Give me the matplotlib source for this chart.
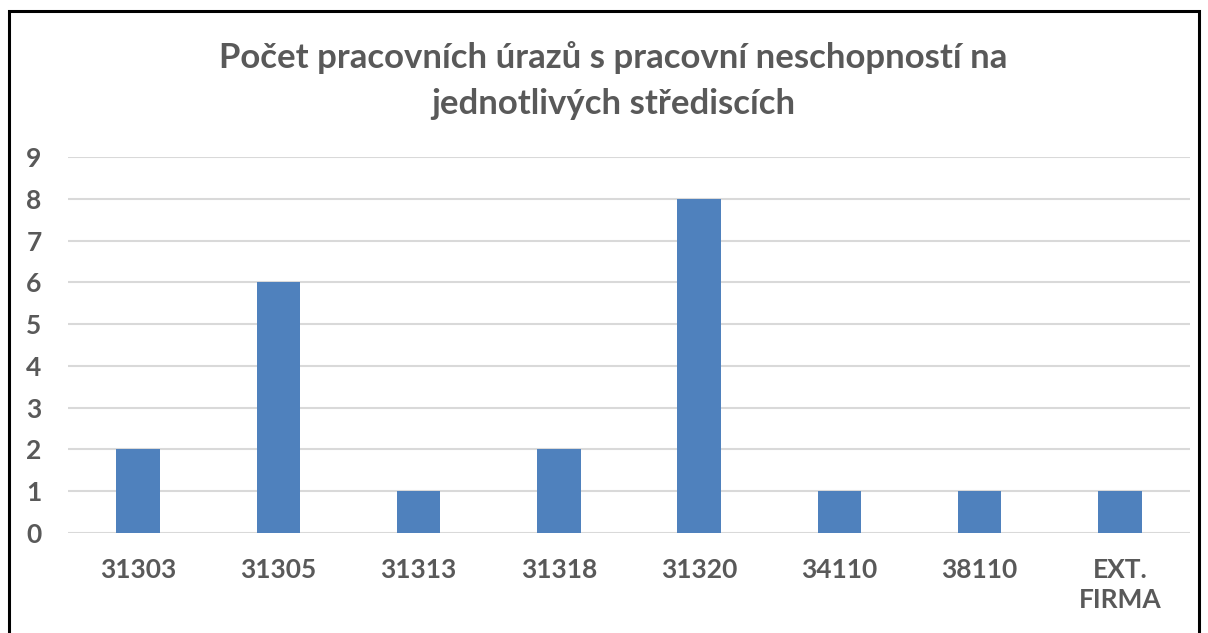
import matplotlib.pyplot as plt
from matplotlib.patches import Rectangle

categories = ["31303", "31305", "31313", "31318", "31320", "34110", "38110", "EXT.\nFIRMA"]
values = [2, 6, 1, 2, 8, 1, 1, 1]
yticks = list(range(0, 10))

gray = "#595959"
plt.rcParams["font.family"] = ["Lato", "DejaVu Sans"]

fig = plt.figure(figsize=(12.08, 6.33), dpi=100)
ax = fig.add_axes([68 / 1208, 1 - 533 / 633, (1190 - 68) / 1208, (533 - 157) / 633])

x = list(range(len(categories)))
ax.bar(x, values, width=0.31, color="#4F81BD", zorder=3)

ax.set_xlim(-0.5, len(categories) - 0.5)
ax.set_ylim(0, 9)
ax.set_yticks(yticks)
ax.set_yticklabels([str(t) for t in yticks], fontsize=19, fontweight="bold", color=gray)
ax.set_xticks(x)
ax.set_xticklabels(categories, fontsize=19, fontweight="bold", color=gray, linespacing=1.3)
ax.tick_params(axis="both", length=0)
ax.tick_params(axis="y", pad=24.5)
ax.tick_params(axis="x", pad=18)
for lbl in ax.get_yticklabels():
    lbl.set_horizontalalignment("center")

ax.grid(True, axis="y", color="#D9D9D9", linewidth=1.5, zorder=0)
for s in ax.spines.values():
    s.set_visible(False)

fig.text(613 / 1208, 1 - 58 / 633, "Počet pracovních úrazů s pracovní neschopností na",
         ha="center", va="center", fontsize=25, fontweight="bold", color=gray)
fig.text(613 / 1208, 1 - 104 / 633, "jednotlivých střediscích",
         ha="center", va="center", fontsize=25, fontweight="bold", color=gray)

fig.patches.append(Rectangle((9 / 1208, -0.05), (1199 - 9) / 1208, 1.05 - 11 / 633,
                             transform=fig.transFigure, fill=False, edgecolor="black",
                             linewidth=2.2, figure=fig))

fig.savefig("out.png", dpi=100)
